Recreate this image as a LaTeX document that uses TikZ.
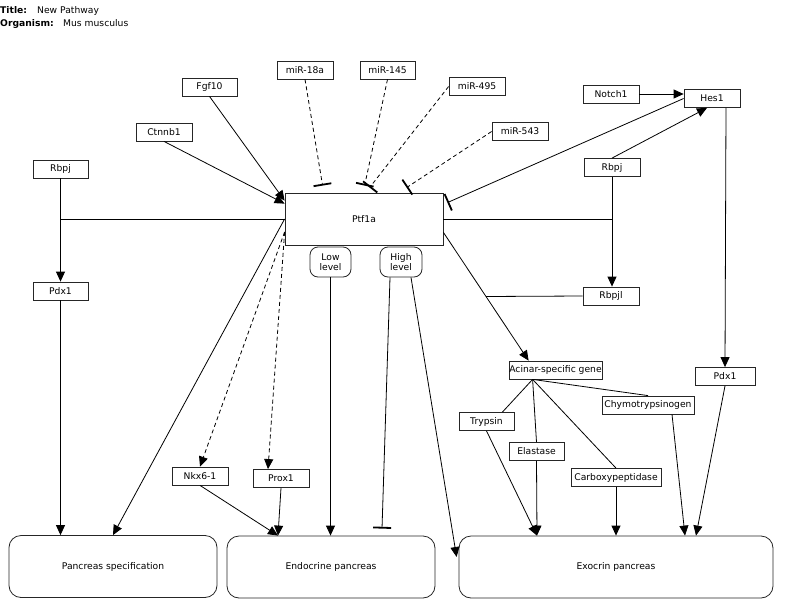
\documentclass[tikz,border=0pt]{standalone}
\usepackage{fontspec}
\setmainfont{DejaVu Sans}
\usetikzlibrary{arrows.meta,calc}
\begin{document}
\begin{tikzpicture}[x=1pt,y=-1pt,
  font=\fontsize{9.2}{11}\selectfont,
  box/.style={draw=black!85, line width=0.8pt, inner sep=0pt, minimum height=18pt, minimum width=56pt, anchor=center, fill=white},
  rbox/.style={box, rounded corners=8pt},
  bigbox/.style={box, rounded corners=12pt, minimum height=62pt},
  edge/.style={line width=0.8pt, black},
  act/.style={edge, -{Triangle[length=10pt,width=9pt]}},
  inh/.style={edge, -{Bar[width=18pt,line width=1.8pt]}},
  dsh/.style={dash pattern=on 4pt off 3pt}
]
\useasboundingbox (0,0) rectangle (787,613);

% title
\node[anchor=base west, inner sep=0pt] (tl) at (0,13.3) {\textbf{Title:}};
\node[anchor=base west, inner sep=0pt] (tv) at (37,13.3) {New Pathway};
\node[anchor=base west, inner sep=0pt] (ol) at (0,26.7) {\textbf{Organism:}};
\node[anchor=base west, inner sep=0pt] (ov) at (63,26.7) {Mus musculus};

% nodes
\node[box] (mira) at (305,70) {miR-18a};
\node[box, minimum width=55pt] (mirb) at (387.5,70) {miR-145};
\node[box] (mirc) at (477,86.5) {miR-495};
\node[box] (mird) at (520,131.5) {miR-543};
\node[box, minimum width=55pt] (fgf) at (209.5,87) {Fgf10};
\node[box] (ctn) at (164,132) {Ctnnb1};
\node[box, minimum width=55pt] (rbpjL) at (60.5,169) {Rbpj};
\node[box, minimum width=55pt] (pdxL) at (60.5,291) {Pdx1};
\node[box, minimum width=158pt, minimum height=52pt] (ptf) at (364,219) {Ptf1a};
\node[rbox, minimum width=41pt, minimum height=30pt, align=center, font=\fontsize{9.2}{10.5}\selectfont] (low) at (330.5,262) {Low\\level};
\node[rbox, minimum width=42pt, minimum height=30pt, align=center, font=\fontsize{9.2}{10.5}\selectfont] (high) at (401,262) {High\\level};
\node[box] (notch) at (611,94) {Notch1};
\node[box] (hes) at (712,98.5) {Hes1};
\node[box] (rbpjR) at (612,167.5) {Rbpj};
\node[box] (rbpjl) at (611,296) {Rbpjl};
\node[box, minimum width=93pt] (acinar) at (555.5,370) {Acinar-specific gene};
\node[box, minimum width=60pt] (pdxR) at (725,376.5) {Pdx1};
\node[box, minimum width=55pt] (tryp) at (486.5,421.5) {Trypsin};
\node[box, minimum width=55pt] (elas) at (536.5,451.5) {Elastase};
\node[box, minimum width=92pt] (chymo) at (648,405) {Chymotrypsinogen};
\node[box, minimum width=90pt] (carb) at (616,477.5) {Carboxypeptidase};
\node[box] (nkx) at (200,476) {Nkx6-1};
\node[box] (prox) at (281,478.5) {Prox1};
\node[bigbox, minimum width=208pt] (spec) at (113,566.5) {Pancreas specification};
\node[bigbox, minimum width=208pt] (endo) at (331,567) {Endocrine pancreas};
\node[bigbox, minimum width=314pt] (exo) at (616,567) {Exocrin pancreas};

% activations into Ptf1a
\draw[act] (fgf.south) -- ($(ptf.north west)+(0,8)$);
\draw[act] (ctn.south) -- ($(ptf.north west)+(0,11)$);

% miRNA inhibitions
\draw[inh,dsh] (mira.south) -- ($(ptf.north west)+(38,-7)$);
\draw[inh,dsh] (mirb.south) -- ($(ptf.north west)+(80,-7)$);
\draw[inh,dsh] (mirc.west) -- ($(ptf.north west)+(85,-5)$);
\draw[inh,dsh] (mird.west) -- ($(ptf.north west)+(122,-5)$);

% Hes1 inhibits Ptf1a
\draw[inh] (hes.west) -- ($(ptf.north east)+(4,10)$);
\draw[act] (notch.east) -- (notch.east -| hes.west);
\draw[act] (rbpjR.north) -- ($(hes.south)+(-5,0)$);

% Ptf1a + Rbpj -> Rbpjl
\draw[edge] (ptf.east) -- (ptf.east -| rbpjR.south);
\draw[act] (rbpjR.south) -- (rbpjR.south |- rbpjl.north);

% Ptf1a -> acinar genes, Rbpjl joins
\draw[act] ($(ptf.south east)+(0,-13)$) -- node[coordinate, pos=0.5] (jn) {} ($(acinar.north west)+(20,0)$);
\draw[edge] (rbpjl.west) -- (jn);

% Ptf1a + Rbpj -> Pdx1 (left)
\draw[edge] (ptf.west) -- (ptf.west -| rbpjL.south);
\draw[act] (rbpjL.south) -- (pdxL.north);
\draw[act] (pdxL.south) -- (pdxL.south |- spec.north);

% Ptf1a outputs
\draw[act] (ptf.west) -- (spec.north);
\draw[act,dsh] ($(ptf.west)+(0,13)$) -- (nkx.north);
\draw[act,dsh] ($(ptf.west)+(0,13)$) -- ($(prox.north)+(-13,0)$);
\draw[act] (low.south) -- (low.south |- endo.north);
\draw[inh] ($(high.south)+(-11,0)$) -- ($(endo.north)+(51,-7)$);
\draw[act] ($(high.south)+(10,0)$) -- ($(exo.west)+(-2,-10)$);

% endocrine inputs
\draw[act] (nkx.south) -- ($(endo.north)+(-53,0)$);
\draw[act] (prox.south) -- ($(endo.north)+(-53,0)$);

% right Pdx1
\draw[act] ($(hes.south)+(14,0)$) -- (pdxR.north);
\draw[act] (pdxR.south) -- ($(exo.north)+(80,0)$);

% acinar genes
\draw[edge] ($(acinar.south west)+(24,0)$) -- ($(tryp.north east)+(-12,0)$);
\draw[edge] ($(acinar.south west)+(24,0)$) -- (elas.north);
\draw[edge] ($(acinar.south west)+(24,0)$) -- (carb.north);
\draw[edge] ($(acinar.south west)+(24,0)$) -- (chymo.north);

% exocrine inputs
\draw[act] (tryp.south) -- ($(exo.north)+(-79,0)$);
\draw[act] (elas.south) -- ($(exo.north)+(-79,0)$);
\draw[act] (carb.south) -- (exo.north);
\draw[act] ($(chymo.south)+(24,0)$) -- ($(exo.north)+(69,0)$);
\end{tikzpicture}
\end{document}
